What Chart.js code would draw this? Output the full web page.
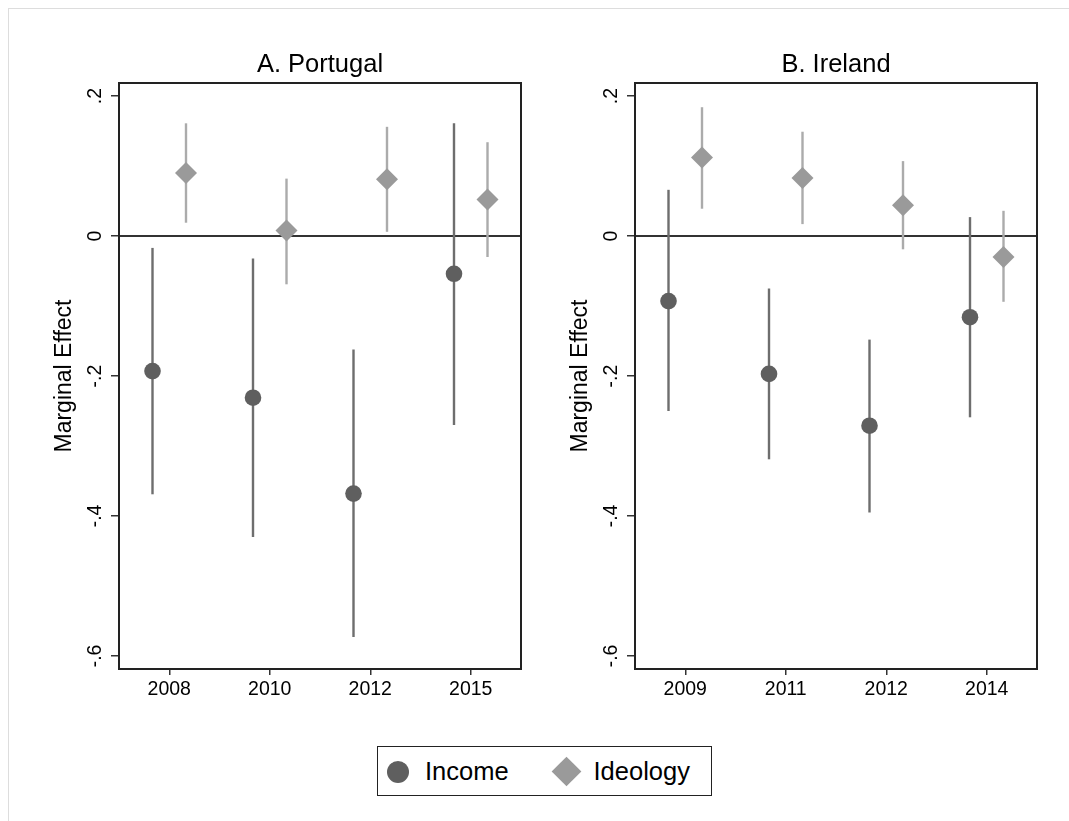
<!DOCTYPE html>
<html>
<head>
<meta charset="utf-8">
<script src="https://cdn.jsdelivr.net/npm/chart.js@4.4.1/dist/chart.umd.min.js"></script>
<style>
  body { margin: 0; background: #fff; font-family: "Liberation Sans", Arial, sans-serif; }
  #frame { position: absolute; left: 8px; top: 8px; width: 1080px; height: 830px;
           border-top: 1px solid #ddd; border-left: 1px solid #ddd; }
  #left { position: absolute; left: 0; top: 0; }
  #right { position: absolute; left: 534px; top: 0; }
  #legend { position: absolute; left: 377px; top: 746px; width: 333px; height: 48px;
            border: 1.5px solid #222; box-sizing: content-box; }
  #legend .mark { position: absolute; }
  #legend .dot { left: 8.5px; top: 13.5px; width: 22px; height: 22px; border-radius: 50%; background: #5f5f5f; }
  #legend .diamond { left: 178px; top: 14px; width: 21px; height: 21px; background: #9a9a9a; transform: rotate(45deg); }
  #legend .lab { position: absolute; top: 0; line-height: 49px; font-size: 25.5px; color: #000; }
</style>
</head>
<body>
<div id="frame"></div>
<canvas id="left" width="534" height="720"></canvas>
<canvas id="right" width="535" height="720"></canvas>
<div id="legend">
  <div class="mark dot"></div><span class="lab" style="left:47px">Income</span>
  <div class="mark diamond"></div><span class="lab" style="left:215.5px">Ideology</span>
</div>
<script>
// A. Portugal
const yearsPortugal = ['2008', '2010', '2012', '2015'];
const incomePortugal = [-0.193, -0.231, -0.368, -0.054];
const incomePortugalLow = [-0.369, -0.430, -0.573, -0.270];
const incomePortugalHigh = [-0.017, -0.032, -0.162, 0.161];
const ideologyPortugal = [0.090, 0.008, 0.081, 0.052];
const ideologyPortugalLow = [0.019, -0.069, 0.006, -0.030];
const ideologyPortugalHigh = [0.161, 0.082, 0.156, 0.134];

// B. Ireland
const yearsIreland = ['2009', '2011', '2012', '2014'];
const incomeIreland = [-0.093, -0.197, -0.271, -0.116];
const incomeIrelandLow = [-0.250, -0.319, -0.395, -0.259];
const incomeIrelandHigh = [0.066, -0.075, -0.148, 0.027];
const ideologyIreland = [0.112, 0.083, 0.044, -0.030];
const ideologyIrelandLow = [0.039, 0.017, -0.019, -0.094];
const ideologyIrelandHigh = [0.184, 0.149, 0.107, 0.036];

const yTicks = [-0.6, -0.4, -0.2, 0, 0.2];

Chart.defaults.font.family = '"Liberation Sans", Arial, sans-serif';
Chart.defaults.color = '#000';

// zero line + confidence intervals under the markers, frame on top
var errorBars = {
    id: 'errorBars',
    beforeDatasetsDraw: function(chart) {
        var ctx = chart.ctx, area = chart.chartArea;
        var x = chart.scales.x, y = chart.scales.y;
        ctx.save();
        var y0 = y.getPixelForValue(0);
        ctx.strokeStyle = '#333';
        ctx.lineWidth = 2;
        ctx.beginPath();
        ctx.moveTo(area.left, y0);
        ctx.lineTo(area.right, y0);
        ctx.stroke();
        chart.data.datasets.forEach(function(ds) {
            ctx.strokeStyle = ds.ciColor;
            ctx.lineWidth = 2.4;
            ds.data.forEach(function(p, j) {
                var px = x.getPixelForValue(p.x);
                ctx.beginPath();
                ctx.moveTo(px, y.getPixelForValue(ds.low[j]));
                ctx.lineTo(px, y.getPixelForValue(ds.high[j]));
                ctx.stroke();
            });
        });
        ctx.restore();
    },
    afterDraw: function(chart) {
        var ctx = chart.ctx, a = chart.chartArea;
        ctx.save();
        ctx.strokeStyle = '#222';
        ctx.lineWidth = 2;
        ctx.strokeRect(a.left, a.top, a.right - a.left, a.bottom - a.top);
        ctx.restore();
    }
};

function stataLabel(v) {
    if (Math.abs(v) < 1e-9) return '0';
    return v.toFixed(1).replace('0.', '.');
}

function makePanel(id, title, years, inc, incLo, incHi, ide, ideLo, ideHi, axisWidth, titlePad, padRight) {
    var shift = 1 / 6;
    new Chart(document.getElementById(id).getContext('2d'), {
        type: 'scatter',
        data: {
            datasets: [{
                label: 'Income',
                data: inc.map(function(v, i) { return {x: i + 1 - shift, y: v}; }),
                low: incLo, high: incHi, ciColor: '#6e6e6e',
                pointStyle: 'circle', pointRadius: 8.3,
                backgroundColor: '#5f5f5f', borderWidth: 0
            }, {
                label: 'Ideology',
                data: ide.map(function(v, i) { return {x: i + 1 + shift, y: v}; }),
                low: ideLo, high: ideHi, ciColor: '#ababab',
                pointStyle: 'rectRot', pointRadius: 11,
                backgroundColor: '#9a9a9a', borderWidth: 0
            }]
        },
        options: {
            responsive: false,
            animation: false,
            layout: { padding: { left: 0, right: padRight, top: 0, bottom: 0 } },
            scales: {
                x: {
                    type: 'linear', min: 0.5, max: 4.5,
                    afterBuildTicks: function(s) { s.ticks = years.map(function(_, i) { return {value: i + 1}; }); },
                    afterFit: function(s) { s.height = 51; },
                    ticks: {
                        callback: function(v) { return years[Math.round(v) - 1]; },
                        font: { size: 19.5 }, padding: 3, maxRotation: 0, autoSkip: false
                    },
                    grid: { drawOnChartArea: false, tickLength: 6, color: '#333', lineWidth: 1.5 },
                    border: { display: false }
                },
                y: {
                    type: 'linear', min: -0.6186, max: 0.2186,
                    afterBuildTicks: function(s) { s.ticks = yTicks.map(function(v) { return {value: v}; }); },
                    afterFit: function(s) { s.width = axisWidth; },
                    ticks: {
                        callback: stataLabel,
                        minRotation: 90, maxRotation: 90, crossAlign: 'center',
                        font: { size: 19.5 }, padding: 4
                    },
                    grid: { drawOnChartArea: false, tickLength: 8, color: '#333', lineWidth: 1.5 },
                    border: { display: false },
                    title: { display: true, text: 'Marginal Effect', font: { size: 23 }, padding: { top: titlePad } }
                }
            },
            plugins: {
                legend: { display: false },
                tooltip: { enabled: false },
                title: {
                    display: true, text: title, fullSize: false,
                    font: { size: 25.5, weight: 'normal' }, color: '#000',
                    padding: { top: 49.2, bottom: 3.2 }
                }
            }
        },
        plugins: [errorBars]
    });
}

makePanel('left', 'A. Portugal', yearsPortugal, incomePortugal, incomePortugalLow, incomePortugalHigh,
    ideologyPortugal, ideologyPortugalLow, ideologyPortugalHigh, 119, 50.5, 13);
makePanel('right', 'B. Ireland', yearsIreland, incomeIreland, incomeIrelandLow, incomeIrelandHigh,
    ideologyIreland, ideologyIrelandLow, ideologyIrelandHigh, 101, 32.5, 32);
</script>
</body>
</html>
